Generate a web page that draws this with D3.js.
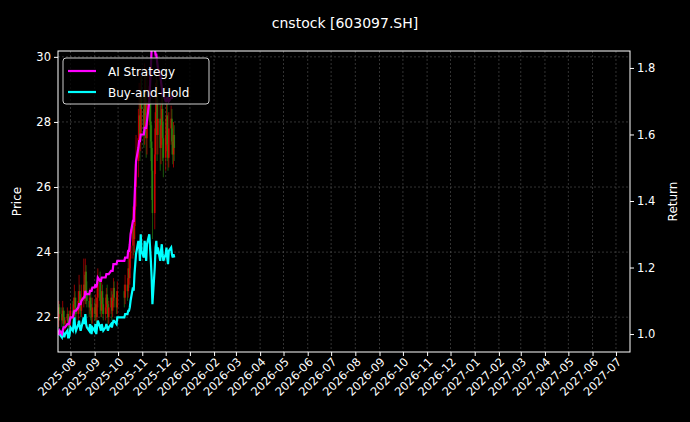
<!DOCTYPE html>
<html>
<head>
<meta charset="utf-8">
<script src="https://cdn.jsdelivr.net/npm/d3@7"></script>
<style>
  body { margin: 0; background: #000; }
  text { font-family: "DejaVu Sans", sans-serif; }
</style>
</head>
<body>
<div id="container"></div>
<script>
/* CONSTANTS AND GLOBALS */
const width = 690,
  height = 422,
  margin = { top: 51, bottom: 70, left: 58, right: 60 };

// DATA (one value per trading day, starting 2025-07-16)
const startDate = "2025-07-16";
const holidays = ["2025-10-01", "2025-10-02", "2025-10-03", "2025-10-06", "2025-10-07", "2025-10-08"];

const closes = [
  22.0, 22.3, 22.1, 21.9, 22.2, 22.0, 21.8, 21.9, 22.1, 21.8, 21.7, 21.9,
  22.2, 22.0, 22.4, 22.6, 22.3, 22.1, 22.5, 22.8, 22.4, 22.2, 22.6, 23.0, 22.7, 23.4, 22.8, 22.5, 22.3, 22.6, 22.2, 22.0, 22.3,
  22.1, 22.4, 22.0, 22.6, 23.1, 22.5, 22.2, 22.8, 22.4, 22.1, 22.3, 22.7, 22.4, 22.0, 22.3, 22.6, 22.2, 22.5, 22.9, 22.6, 22.3, 22.8,
  22.6, 23.0, 22.8, 23.5, 23.2, 23.8, 24.2, 24.8, 24.4, 25.3, 26.0, 26.8, 27.5, 28.2, 27.6, 28.8, 28.4,
  27.8, 28.9, 28.2, 27.5, 28.6, 29.1, 28.0, 27.4, 26.5, 25.2, 27.0, 28.3, 28.8, 27.6, 28.1, 27.2, 27.9, 28.4, 27.5, 26.9,
  27.6, 28.2, 27.3, 26.9, 27.8, 28.1, 27.4, 27.0, 27.6, 27.2
];
const upperWick = [
  0.3, 0.2, 0.1, 0.2, 0.3, 0.1, 0.2, 0.1, 0.2, 0.1, 0.2, 0.3,
  0.2, 0.3, 0.2, 0.4, 0.2, 0.3, 0.3, 0.5, 0.2, 0.3, 0.4, 0.8, 0.3, 0.4, 0.2, 0.3, 0.2, 0.3, 0.2, 0.2, 0.3,
  0.2, 0.3, 0.2, 0.4, 0.4, 0.3, 0.2, 0.3, 0.2, 0.2, 0.3, 0.2, 0.3, 0.2, 0.2, 0.3, 0.2, 0.2, 0.3, 0.2, 0.2, 0.3,
  0.2, 0.3, 0.2, 0.4, 0.3, 0.4, 0.5, 0.6, 0.4, 0.6, 0.7, 0.8, 0.9, 1.0, 0.6, 0.8, 0.6,
  0.5, 0.9, 0.6, 0.5, 0.8, 0.6, 0.5, 0.6, 0.5, 0.7, 0.8, 0.9, 0.7, 0.5, 0.6, 0.5, 0.6, 0.6, 0.4, 0.5,
  0.5, 0.4, 0.4, 0.3, 0.5, 0.4, 0.3, 0.4, 0.4, 0.3
];
const lowerWick = [
  0.2, 0.3, 0.2, 0.2, 0.1, 0.3, 0.2, 0.2, 0.1, 0.3, 0.2, 0.1,
  0.2, 0.2, 0.3, 0.2, 0.3, 0.2, 0.2, 0.3, 0.3, 0.2, 0.2, 0.3, 0.2, 0.3, 0.4, 0.2, 0.3, 0.2, 0.3, 0.2, 0.2,
  0.2, 0.2, 0.3, 0.2, 0.3, 0.4, 0.2, 0.2, 0.3, 0.2, 0.2, 0.2, 0.3, 0.2, 0.2, 0.2, 0.3, 0.2, 0.2, 0.3, 0.2, 0.2,
  0.3, 0.2, 0.3, 0.2, 0.3, 0.2, 0.3, 0.4, 0.5, 0.4, 0.5, 0.6, 0.5, 0.6, 0.8, 0.5, 0.7,
  0.6, 0.5, 0.7, 0.6, 0.5, 0.7, 0.8, 0.6, 0.9, 0.8, 0.5, 0.6, 0.7, 0.8, 0.6, 0.7, 0.5, 0.6, 0.7, 0.6,
  0.4, 0.5, 0.5, 0.4, 0.3, 0.5, 0.4, 0.3, 0.4, 0.4
];
const aiStrategy = [
  1.00, 1.00, 1.01, 1.00, 1.01, 1.02, 1.02, 1.02, 1.03, 1.03, 1.03, 1.04,
  1.05, 1.05, 1.06, 1.07, 1.07, 1.07, 1.08, 1.09, 1.09, 1.09, 1.10, 1.11, 1.11, 1.13, 1.12, 1.12, 1.12, 1.13, 1.13, 1.13, 1.14,
  1.14, 1.15, 1.14, 1.15, 1.17, 1.16, 1.16, 1.17, 1.17, 1.17, 1.17, 1.18, 1.18, 1.18, 1.18, 1.19, 1.19, 1.19, 1.21, 1.21, 1.21, 1.22,
  1.22, 1.23, 1.23, 1.25, 1.25, 1.27, 1.30, 1.34, 1.34, 1.40, 1.46, 1.52, 1.56, 1.58, 1.58, 1.60, 1.60,
  1.60, 1.62, 1.62, 1.62, 1.64, 1.70, 1.75, 1.80, 1.86, 1.86, 1.86, 1.84, 1.84, 1.82, 1.80, 1.78, 1.76, 1.74, 1.72, 1.72,
  1.70, 1.70, 1.71, 1.71, 1.70, 1.71, 1.71, 1.72, 1.72, 1.72
];
const buyHold = [
  1.00, 1.01, 1.00, 0.99, 1.01, 1.00, 0.99, 1.00, 1.01, 0.99, 0.99, 1.00,
  1.02, 1.01, 1.03, 1.05, 1.02, 1.01, 1.03, 1.04, 1.02, 1.01, 1.02, 1.05, 1.03, 1.06, 1.03, 1.02, 1.01, 1.03, 1.01, 1.00, 1.02,
  1.01, 1.03, 1.00, 1.02, 1.04, 1.02, 1.01, 1.03, 1.02, 1.01, 1.02, 1.03, 1.02, 1.01, 1.02, 1.03, 1.02, 1.03, 1.04, 1.04, 1.03, 1.05,
  1.05, 1.06, 1.06, 1.07, 1.07, 1.08, 1.10, 1.14, 1.13, 1.18, 1.21, 1.24, 1.28, 1.27, 1.22, 1.30, 1.25,
  1.23, 1.28, 1.26, 1.22, 1.27, 1.30, 1.26, 1.22, 1.17, 1.09, 1.20, 1.26, 1.28, 1.24, 1.26, 1.22, 1.25, 1.27, 1.24, 1.22,
  1.24, 1.26, 1.23, 1.21, 1.25, 1.26, 1.24, 1.23, 1.24, 1.23
];
const priceTicks = [22, 24, 26, 28, 30];
const returnTicks = [1.0, 1.2, 1.4, 1.6, 1.8];

// trading days
const parse = d3.timeParse("%Y-%m-%d");
const fmt = d3.timeFormat("%Y-%m-%d");
const dates = [];
let day = parse(startDate);
while (dates.length < closes.length) {
  const wd = day.getDay();
  if (wd !== 0 && wd !== 6 && !holidays.includes(fmt(day))) dates.push(new Date(day));
  day = d3.timeDay.offset(day, 1);
}
const candles = closes.map((c, i) => {
  const o = i === 0 ? 21.9 : closes[i - 1];
  return { date: dates[i], o, c, h: Math.max(o, c) + upperWick[i], l: Math.min(o, c) - lowerWick[i] };
});

// APPEND SVG
const svg = d3.select("#container")
  .append("svg")
  .attr("width", width)
  .attr("height", height)
  .style("background", "#000");

// SCALES
const x = d3.scaleTime()
  .domain([parse("2025-07-16"), parse("2027-07-19")])
  .range([margin.left, width - margin.right]);
const yPrice = d3.scaleLinear().domain([20.93, 30.18]).range([height - margin.bottom, margin.top]);
const yRet = d3.scaleLinear().domain([0.946, 1.851]).range([height - margin.bottom, margin.top]);

const monthTicks = d3.timeMonth.range(parse("2025-08-01"), parse("2027-07-02"));

// GRID
svg.append("g").selectAll("line.vgrid")
  .data(monthTicks)
  .join("line")
  .attr("x1", d => x(d)).attr("x2", d => x(d))
  .attr("y1", margin.top).attr("y2", height - margin.bottom)
  .attr("stroke", "#555").attr("stroke-width", 0.6).attr("stroke-dasharray", "2,2");
svg.append("g").selectAll("line.hgrid")
  .data(priceTicks)
  .join("line")
  .attr("x1", margin.left).attr("x2", width - margin.right)
  .attr("y1", d => yPrice(d)).attr("y2", d => yPrice(d))
  .attr("stroke", "#555").attr("stroke-width", 0.6).attr("stroke-dasharray", "2,2");

// CANDLES
const plot = svg.append("g");
svg.append("clipPath").attr("id", "clip").append("rect")
  .attr("x", margin.left).attr("y", margin.top)
  .attr("width", width - margin.left - margin.right)
  .attr("height", height - margin.top - margin.bottom);
plot.attr("clip-path", "url(#clip)");

const col = d => d.c >= d.o ? "#e00000" : "#2a8a10";
plot.selectAll("line.wick")
  .data(candles)
  .join("line")
  .attr("x1", d => x(d.date)).attr("x2", d => x(d.date))
  .attr("y1", d => yPrice(d.h)).attr("y2", d => yPrice(d.l))
  .attr("stroke", col).attr("stroke-width", 0.8).attr("opacity", 0.8);
plot.selectAll("rect.body")
  .data(candles)
  .join("rect")
  .attr("x", d => x(d.date) - 0.8)
  .attr("width", 1.6)
  .attr("y", d => yPrice(Math.max(d.o, d.c)))
  .attr("height", d => Math.max(0.5, Math.abs(yPrice(d.o) - yPrice(d.c))))
  .attr("fill", col).attr("opacity", 0.8);

// LINES
const lineGen = vals => d3.line().x((d, i) => x(dates[i])).y(d => yRet(d))(vals);
plot.append("path").attr("d", lineGen(buyHold))
  .attr("fill", "none").attr("stroke", "#00ffff").attr("stroke-width", 2.2);
plot.append("path").attr("d", lineGen(aiStrategy))
  .attr("fill", "none").attr("stroke", "#ff00ff").attr("stroke-width", 2.2);

// AXES
const xAxis = svg.append("g")
  .attr("transform", `translate(0,${height - margin.bottom})`)
  .call(d3.axisBottom(x).tickValues(monthTicks).tickFormat(d3.timeFormat("%Y-%m")).tickSizeOuter(0).tickSize(4));
xAxis.selectAll("text")
  .attr("transform", "rotate(-45)")
  .attr("text-anchor", "end")
  .attr("dx", "-0.3em").attr("dy", "0.4em");

svg.append("g")
  .attr("transform", `translate(${margin.left},0)`)
  .call(d3.axisLeft(yPrice).tickValues(priceTicks).tickFormat(d3.format("d")).tickSizeOuter(0).tickSize(4));
svg.append("g")
  .attr("transform", `translate(${width - margin.right},0)`)
  .call(d3.axisRight(yRet).tickValues(returnTicks).tickFormat(d3.format(".1f")).tickSizeOuter(0).tickSize(4));

svg.selectAll(".tick text").attr("fill", "#fff").attr("font-size", 11.5).style("font-family", "DejaVu Sans");
svg.selectAll(".tick line").attr("stroke", "#fff");
svg.selectAll(".domain").remove();

// FRAME
svg.append("rect")
  .attr("x", margin.left).attr("y", margin.top)
  .attr("width", width - margin.left - margin.right)
  .attr("height", height - margin.top - margin.bottom)
  .attr("fill", "none").attr("stroke", "#fff").attr("stroke-width", 1);

// LABELS
svg.append("text").attr("x", 345).attr("y", 28).attr("text-anchor", "middle")
  .attr("fill", "#fff").attr("font-size", 14).text("cnstock [603097.SH]");
svg.append("text").attr("transform", `translate(21,${(margin.top + height - margin.bottom) / 2}) rotate(-90)`)
  .attr("text-anchor", "middle").attr("fill", "#fff").attr("font-size", 12).text("Price");
svg.append("text").attr("transform", `translate(677,${(margin.top + height - margin.bottom) / 2}) rotate(-90)`)
  .attr("text-anchor", "middle").attr("fill", "#fff").attr("font-size", 12).text("Return");

// LEGEND
const legend = svg.append("g").attr("transform", "translate(63,58)");
legend.append("rect").attr("width", 146).attr("height", 46).attr("rx", 3)
  .attr("fill", "#000").attr("fill-opacity", 0.8).attr("stroke", "#ccc");
const items = [{ name: "AI Strategy", color: "#ff00ff" }, { name: "Buy-and-Hold", color: "#00ffff" }];
items.forEach((d, i) => {
  const yy = 13 + i * 21;
  legend.append("line").attr("x1", 5).attr("x2", 33).attr("y1", yy).attr("y2", yy)
    .attr("stroke", d.color).attr("stroke-width", 2.2);
  legend.append("text").attr("x", 45).attr("y", yy + 4.5)
    .attr("fill", "#fff").attr("font-size", 12).text(d.name);
});
</script>
</body>
</html>
